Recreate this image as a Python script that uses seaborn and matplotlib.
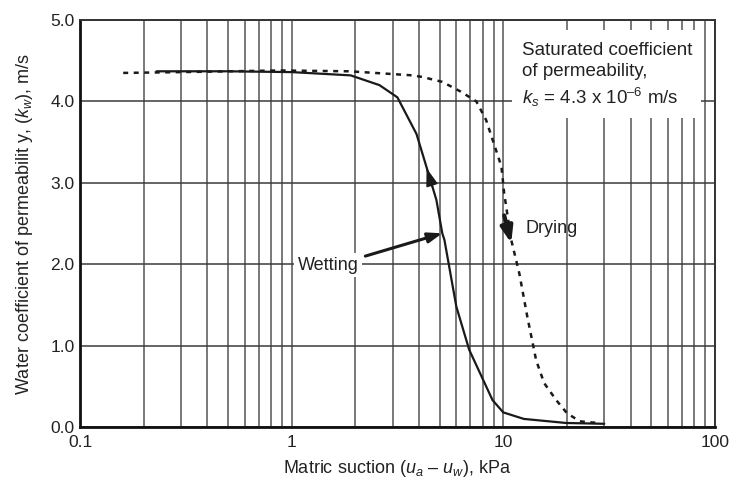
import matplotlib
matplotlib.use("Agg")
import matplotlib.pyplot as plt
from matplotlib.patches import Rectangle
import seaborn as sns
import pandas as pd

# Wetting branch (solid)
wet_suction = [0.23, 0.5, 1.0, 1.9, 2.6, 3.16, 3.89, 4.33, 4.83, 5.15, 5.27, 6.0, 6.9, 8.9, 10.0, 12.5, 19.8, 30.0]
wet_k = [4.37, 4.37, 4.36, 4.32, 4.2, 4.05, 3.6, 3.2, 2.79, 2.38, 2.3, 1.48, 0.95, 0.33, 0.18, 0.1, 0.05, 0.04]

# Drying branch (dashed)
dry_suction = [0.16, 0.3, 0.88, 1.88, 3.72, 4.15, 5.15, 6.3, 7.46, 8.3, 8.9, 9.8, 10.1, 10.9, 11.9, 13.0, 14.3, 15.6, 17.8, 20.0, 23.0, 28.0]
dry_k = [4.35, 4.36, 4.38, 4.37, 4.32, 4.3, 4.24, 4.12, 4.0, 3.77, 3.53, 3.2, 2.87, 2.3, 1.89, 1.35, 0.82, 0.54, 0.33, 0.17, 0.07, 0.05]

x_ticks = [0.1, 1, 10, 100]
x_ticklabels = ["0.1", "1", "10", "100"]
y_ticks = [0, 1, 2, 3, 4, 5]
y_ticklabels = ["0.0", "1.0", "2.0", "3.0", "4.0", "5.0"]

sns.set_theme(style="white")
plt.rcParams["font.family"] = ["Liberation Sans", "DejaVu Sans"]
plt.rcParams["mathtext.fontset"] = "custom"
plt.rcParams["mathtext.rm"] = "Liberation Sans"
plt.rcParams["mathtext.it"] = "Liberation Sans:italic"

wet = pd.DataFrame({"suction": wet_suction, "k": wet_k})
dry = pd.DataFrame({"suction": dry_suction, "k": dry_k})

text_color = "#222222"
ink = "#1a1a1a"

fig, ax = plt.subplots(figsize=(7.34, 4.82), dpi=100)
fig.subplots_adjust(left=0.109, right=0.974, top=0.9585, bottom=0.114)

ax.set_xscale("log")
ax.set_xlim(0.1, 100)
ax.set_ylim(0, 5)

ax.grid(True, which="both", axis="x", color="#555555", lw=1.1)
ax.grid(True, which="major", axis="y", color="#3a3a3a", lw=1.1)
ax.set_axisbelow(True)

sns.lineplot(data=wet, x="suction", y="k", ax=ax, sort=False, color=ink, lw=1.6)
sns.lineplot(data=dry, x="suction", y="k", ax=ax, sort=False, color=ink, lw=1.8,
             linestyle=(0, (2.0, 2.2)))

ax.set_xticks(x_ticks)
ax.set_xticklabels(x_ticklabels)
ax.set_yticks(y_ticks)
ax.set_yticklabels(y_ticklabels)
ax.tick_params(axis="both", which="both", length=0, labelsize=12.5, colors=text_color)
ax.tick_params(axis="x", pad=5.5)
ax.tick_params(axis="y", pad=4)

ax.set_xlabel("Matric suction ($u_a$ – $u_w$), kPa", fontsize=13, color=text_color, labelpad=6)
ax.set_ylabel("Water coefficient of permeabilit y, ($k_w$), m/s", fontsize=13, color=text_color,
              labelpad=11)

for side in ["left", "bottom"]:
    ax.spines[side].set_color("#111111")
    ax.spines[side].set_linewidth(2.0)
for side in ["top", "right"]:
    ax.spines[side].set_color("#333333")
    ax.spines[side].set_linewidth(1.4)

# White panel behind the saturated-permeability note
ax.add_patch(Rectangle((11.0, 3.80), 86.0 - 11.0, 4.88 - 3.80, facecolor="white",
                       edgecolor="none", zorder=1.5))
ax.text(12.2, 4.73,
        "Saturated coefficient\nof permeability,\n$k_s$ = 4.3 x 10$^{–6}$ m/s",
        fontsize=13.5, color=text_color, va="top", ha="left", linespacing=1.33, zorder=3)

# Wetting label and its arrow to the solid curve
ax.text(2.07, 1.99, "Wetting", fontsize=13, color=text_color, ha="right", va="center", zorder=3,
        bbox=dict(boxstyle="square,pad=0.2", fc="white", ec="none"))
ax.annotate("", xy=(5.15, 2.38), xytext=(2.23, 2.10),
            arrowprops=dict(arrowstyle="-|>,head_length=0.7,head_width=0.25", color=ink,
                            lw=2.2, shrinkA=0, shrinkB=0))

# Direction arrowhead on the wetting branch
ax.annotate("", xy=(4.34, 3.18), xytext=(4.63, 2.95),
            arrowprops=dict(arrowstyle="-|>,head_length=0.9,head_width=0.3", color=ink,
                            lw=1.2, shrinkA=0, shrinkB=0))

# Drying label with its downward arrow
ax.text(12.7, 2.44, "Drying", fontsize=13, color=text_color, ha="left", va="center")
ax.annotate("", xy=(10.9, 2.26), xytext=(10.1, 2.60),
            arrowprops=dict(arrowstyle="-|>,head_length=0.8,head_width=0.3", color=ink,
                            lw=3.0, shrinkA=0, shrinkB=0))

fig.savefig("out.png", dpi=100)
